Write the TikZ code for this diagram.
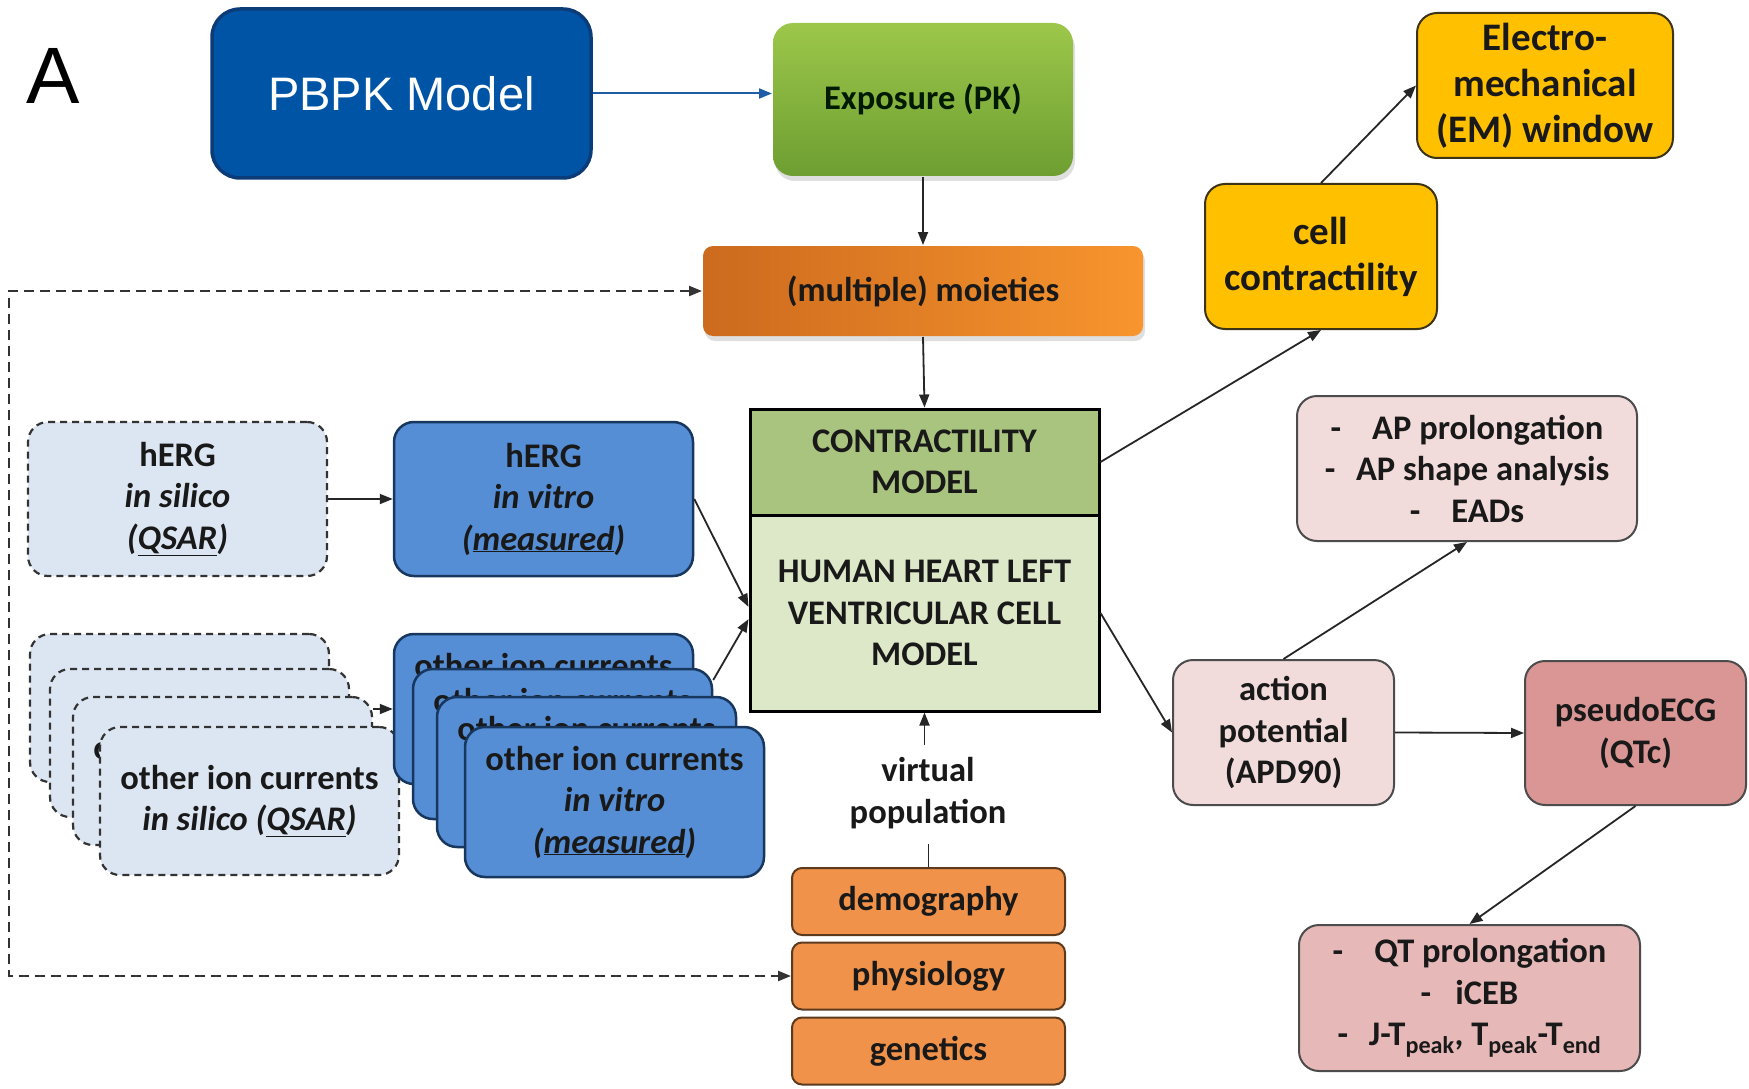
\documentclass[tikz,border=0pt]{standalone}
\usepackage{fontspec}
\setmainfont{Carlito}
\newfontfamily\arialfont{Liberation Sans}
\usetikzlibrary{arrows.meta,shadows,calc}
\definecolor{pbpkblue}{HTML}{0054A6}
\definecolor{pbpkdark}{HTML}{0B3C78}
\definecolor{expotop}{HTML}{9CC74A}
\definecolor{expobot}{HTML}{6E9E32}
\definecolor{moileft}{HTML}{CC6A1E}
\definecolor{moiright}{HTML}{F8952E}
\definecolor{contrfill}{HTML}{A9C47F}
\definecolor{hhfill}{HTML}{DDE8C9}
\definecolor{gold}{HTML}{FFC000}
\definecolor{golddark}{HTML}{3C3414}
\definecolor{pinklight}{HTML}{F2DCDB}
\definecolor{rose}{HTML}{D99694}
\definecolor{rosemid}{HTML}{E6B9B8}
\definecolor{silfill}{HTML}{DCE6F2}
\definecolor{vitfill}{HTML}{558ED5}
\definecolor{vitdark}{HTML}{17375E}
\definecolor{orfill}{HTML}{F0924A}
\definecolor{ordark}{HTML}{5C3A1E}
\definecolor{linegray}{HTML}{333333}
\definecolor{blueline}{HTML}{1F5CA8}
\begin{document}
\begin{tikzpicture}[x=1pt,y=-1pt,
  txt/.style={font=\fontsize{34.5}{41.5}\selectfont\bfseries, text=black!90, align=center},
  bigtxt/.style={font=\fontsize{39}{46}\selectfont\bfseries},
  rbox/.style={txt, rectangle, rounded corners=20pt, inner sep=0pt, line width=2pt},
  silbox/.style={rbox, fill=silfill, draw=linegray, line width=2.2pt, dash pattern=on 7pt off 5pt, minimum width=299, minimum height=148},
  vitbox/.style={rbox, fill=vitfill, draw=vitdark, line width=2.5pt, minimum width=299, minimum height=150},
  goldbox/.style={rbox, bigtxt, fill=gold, draw=golddark, line width=2pt},
  pinkbox/.style={rbox, fill=pinklight, draw=black!70, line width=2pt},
  orbox/.style={rbox, rounded corners=10pt, fill=orfill, draw=ordark, line width=2pt, minimum width=273, minimum height=67},
  conn/.style={line width=1.8pt, draw=black!85, -{Triangle[length=13pt,width=10pt]}},
  fbline/.style={line width=2.2pt, draw=linegray, dash pattern=on 10pt off 6pt, {Triangle[length=13pt,width=10pt]}-{Triangle[length=13pt,width=10pt]}},
]
\useasboundingbox (0,0) rectangle (1749,1089);
\fill[white] (0,0) rectangle (1749,1089);

% label
\node[font=\arialfont\fontsize{80}{80}\selectfont, inner sep=0pt] (lblA) at (53.5,76) {A};

% top chain
\node[rectangle, rounded corners=28pt, fill=pbpkblue, draw=pbpkdark, line width=3.5pt,
      minimum width=379, minimum height=169, inner sep=0pt,
      font=\arialfont\fontsize{47}{47}\selectfont, text=white] (pbpk) at (401.5,93.5) {PBPK Model};
\node[rbox, draw=none, top color=expotop, bottom color=expobot, minimum width=300, minimum height=153,
      text=black!90!green, drop shadow={opacity=0.25, shadow xshift=2pt, shadow yshift=-5pt}] (expo) at (923,99.5) {Exposure (PK)};
\node[rbox, rounded corners=10pt, draw=none, left color=moileft, right color=moiright, minimum width=440, minimum height=90,
      drop shadow={opacity=0.25, shadow xshift=2pt, shadow yshift=-5pt}] (moi) at (923,291) {(multiple) moieties};

% central model
\node[txt, rectangle, fill=contrfill, draw=black, line width=3pt, minimum width=349, minimum height=106, inner sep=0pt] (contr) at (924.5,462) {CONTRACTILITY\\MODEL};
\node[txt, rectangle, fill=hhfill, draw=black, line width=3pt, minimum width=349, minimum height=196, inner sep=0pt] (hh) at (924.5,613) {HUMAN HEART LEFT\\VENTRICULAR CELL\\MODEL};

% right side
\node[goldbox, minimum width=232, minimum height=145] (cell) at (1321,256.5) {cell\\contractility};
\node[goldbox, minimum width=256, minimum height=145] (em) at (1545,85.5) {Electro-\\mechanical\\(EM) window};
\node[pinkbox, minimum width=340, minimum height=145] (apbox) at (1467,468.5) {-\hspace{0.9em}AP prolongation\\-\hspace{0.6em}AP shape analysis\\-\hspace{0.9em}EADs};
\node[pinkbox, minimum width=221, minimum height=145] (act) at (1283.5,732.5) {action\\potential\\(APD90)};
\node[rbox, fill=rose, draw=black!70, minimum width=221, minimum height=144] (pecg) at (1635.5,733) {pseudoECG\\(QTc)};
\node[rbox, fill=rosemid, draw=black!70, minimum width=341, minimum height=146] (qt) at (1469.5,998) {-\hspace{0.9em}QT prolongation\\-\hspace{0.7em}iCEB\\-\hspace{0.6em}J-T\textsubscript{peak}, T\textsubscript{peak}-T\textsubscript{end}};

% hERG
\node[silbox, minimum height=154] (hsil) at (177.5,499) {hERG\\\textit{in silico}\\\textit{(\underline{QSAR})}};
\node[vitbox, minimum height=154] (hvit) at (543.5,499) {hERG\\\textit{in vitro}\\\textit{(\underline{measured})}};

% other ion currents in silico (stack; back cards' text is fully covered)
\node[silbox] (osil1) at (179.5,708) {};
\node[silbox] (osil2) at (199.5,743) {};
\node[silbox] (osil3) at (222.5,771) {other ion currents\\\textit{in silico (\underline{QSAR})}};
\node[silbox] (osil4) at (249.5,801) {other ion currents\\\textit{in silico (\underline{QSAR})}};

% other ion currents in vitro (stack)
\node[vitbox] (ovit1) at (543.5,709) {other ion currents\\\textit{in vitro}\\\textit{(\underline{measured})}};
\node[vitbox] (ovit2) at (562.5,744) {other ion currents\\\textit{in vitro}\\\textit{(\underline{measured})}};
\node[vitbox] (ovit3) at (586.5,772) {other ion currents\\\textit{in vitro}\\\textit{(\underline{measured})}};
\node[vitbox] (ovit4) at (614.5,802) {other ion currents\\\textit{in vitro}\\\textit{(\underline{measured})}};

% virtual population
\node[txt, inner sep=2pt] (vp) at (928,793) {virtual\\population};
\coordinate (vpt) at (924.5,745);
\coordinate (vpb) at (928.5,844);
\node[orbox] (demo) at (928.5,901.5) {demography};
\node[orbox] (phys) at (928.5,976) {physiology};
\node[orbox] (gen) at (928.5,1051) {genetics};

% connectors
\draw[line width=2pt, draw=blueline, -{Triangle[length=13pt,width=10pt]}] (pbpk.east) -- (expo.west |- pbpk.east);
\draw[conn] (expo.south) -- (moi.north);
\draw[conn] (moi.south) -- (contr.north);
\draw[conn] (contr.east) -- (cell.south);
\draw[conn] (cell.north) -- (em.west);
\draw[conn] (hh.east) -- (act.west);
\draw[conn] (act.north) -- (apbox.south);
\draw[conn] (act.east) -- (pecg.west);
\draw[conn] (pecg.south) -- (qt.north);
\draw[conn] (hsil.east) -- (hvit.west);
\draw[conn] (hvit.east) -- (hh.178);
\draw[conn] (ovit2.23) -- (hh.182);
\draw[conn] (osil3.east |- ovit1.west) -- (ovit1.west);
\draw[conn] (vpt) -- (hh.south);
\draw[line width=1.8pt, draw=black!85] (demo.north) -- (vpb);
\coordinate (fbcorner) at (9,976);
\draw[fbline] (moi.west) -| (fbcorner) |- (phys.west);
\end{tikzpicture}
\end{document}
